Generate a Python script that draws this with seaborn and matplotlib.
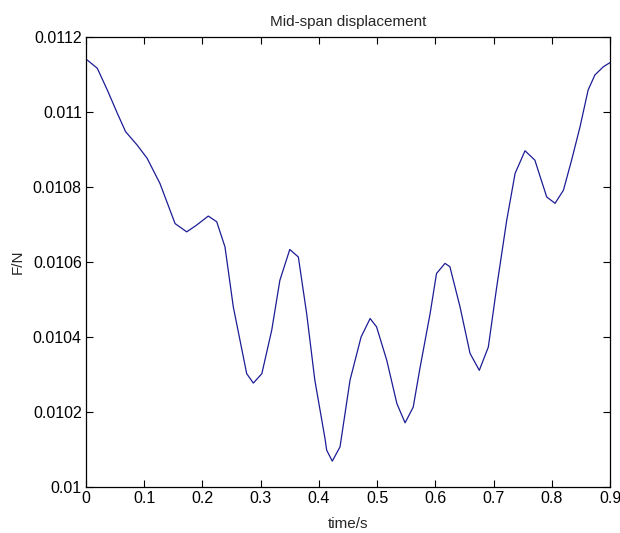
import numpy as np
import pandas as pd
import matplotlib
matplotlib.use('Agg')
import matplotlib.pyplot as plt
import seaborn as sns

# valores (tiempo en s, desplazamiento)
t = [0.0, 0.002, 0.0194, 0.0366, 0.0538, 0.068, 0.088, 0.105, 0.127, 0.153,
     0.173, 0.190, 0.210, 0.2245, 0.2387, 0.253, 0.276, 0.2874, 0.302, 0.319,
     0.333, 0.350, 0.3647, 0.379, 0.393, 0.4105, 0.4134, 0.423, 0.4363,
     0.4535, 0.4725, 0.488, 0.499, 0.5165, 0.534, 0.548, 0.562, 0.5735, 0.591,
     0.602, 0.6166, 0.625, 0.6424, 0.6596, 0.6755, 0.691, 0.7054, 0.7226,
     0.737, 0.754, 0.771, 0.780, 0.7913, 0.8056, 0.820, 0.834, 0.8485, 0.8624,
     0.874, 0.8886, 0.9]
F = [0.011136, 0.011138, 0.011116, 0.011058, 0.010996, 0.010947, 0.010911,
     0.010876, 0.010809, 0.010702, 0.01068, 0.010698, 0.010722, 0.010707,
     0.01064, 0.01048, 0.010302, 0.010277, 0.010302, 0.010418, 0.010551,
     0.010633, 0.010613, 0.010462, 0.010285, 0.010129, 0.010098, 0.010069,
     0.010107, 0.010285, 0.0104, 0.010449, 0.010427, 0.010338, 0.010222,
     0.010171, 0.010213, 0.010316, 0.010462, 0.010569, 0.010596, 0.010587,
     0.01048, 0.010356, 0.010311, 0.010373, 0.010533, 0.010711, 0.010836,
     0.010896, 0.010871, 0.010827, 0.010773, 0.010756, 0.010791, 0.010871,
     0.01096, 0.011058, 0.011098, 0.01112, 0.011131]

xticks = [0, 0.1, 0.2, 0.3, 0.4, 0.5, 0.6, 0.7, 0.8, 0.9]
xticklabels = ['0', '0.1', '0.2', '0.3', '0.4', '0.5', '0.6', '0.7', '0.8', '0.9']
yticks = [0.01, 0.0102, 0.0104, 0.0106, 0.0108, 0.011, 0.0112]
yticklabels = ['0.01', '0.0102', '0.0104', '0.0106', '0.0108', '0.011', '0.0112']

df = pd.DataFrame({'time': t, 'F': F})

sns.set_style('ticks')
plt.rcParams['font.family'] = ['Liberation Sans', 'DejaVu Sans']

fig = plt.figure(figsize=(6.2, 5.33), dpi=100)
ax = fig.add_axes([0.1387, 0.0863, 0.8452, 0.8448])
sns.lineplot(data=df, x='time', y='F', ax=ax, color='#1c1c96', linewidth=0.9)

ax.set_xlim(0, 0.9)
ax.set_ylim(0.01, 0.0112)
ax.set_xticks(xticks)
ax.set_xticklabels(xticklabels)
ax.set_yticks(yticks)
ax.set_yticklabels(yticklabels)
ax.tick_params(direction='in', length=5, width=0.8, top=True, right=True,
               labelsize=11.5, colors='black', pad=3)
for s in ax.spines.values():
    s.set_linewidth(0.9)
    s.set_color('black')

ax.set_xlabel('time/s', fontsize=11, labelpad=8)
ax.set_ylabel('F/N', fontsize=11, labelpad=6)
ax.set_title('Mid-span displacement', fontsize=11, pad=8)

fig.savefig('out.png', dpi=100)
